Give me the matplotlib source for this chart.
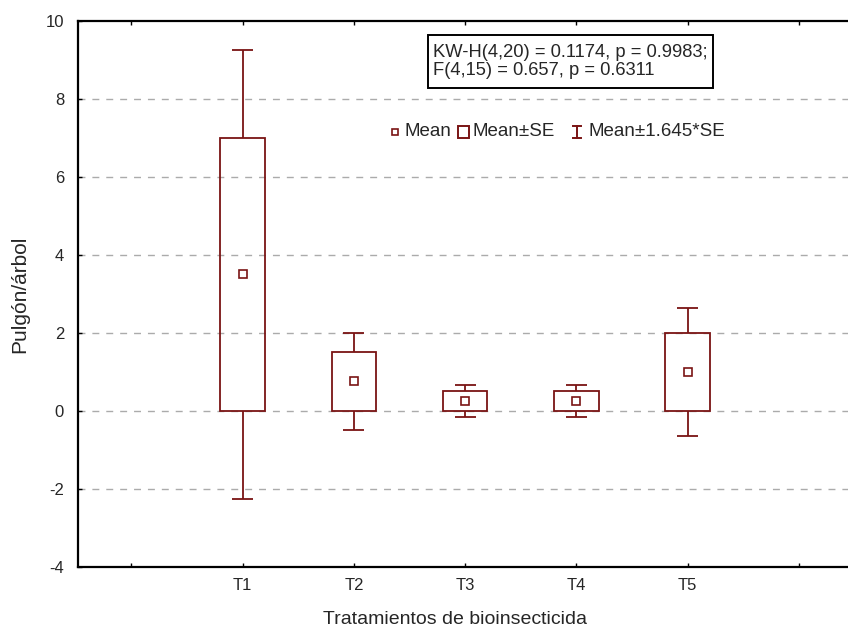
import matplotlib
matplotlib.use("Agg")
import matplotlib.pyplot as plt
from matplotlib.patches import Rectangle
import numpy as np

plt.rcParams['font.family'] = ['Liberation Sans', 'DejaVu Sans']
plt.rcParams['axes.unicode_minus'] = False

# data
treatments = ['T1', 'T2', 'T3', 'T4', 'T5']
means = [3.5, 0.75, 0.25, 0.25, 1.0]
se = [3.5, 0.75, 0.25, 0.25, 1.0]
y_ticks = [-4, -2, 0, 2, 4, 6, 8, 10]
stats_text = "KW-H(4,20) = 0.1174, p = 0.9983;\nF(4,15) = 0.657, p = 0.6311"

col = '#7a1414'
txt = '#262626'
W, H = 848, 632

fig = plt.figure(figsize=(W / 100, H / 100), dpi=100)
# axes in pixels: left 78, top 20.7, bottom 566.7; right side runs past the image
unit = 111.25
x0 = -0.48
x1 = 6.5
ax_left = 78
ax_w = (x1 - x0) * unit
ax = fig.add_axes([ax_left / W, (H - 566.7) / H, ax_w / W, 546 / H])
ax.set_xlim(x0, x1)
ax.set_ylim(-4, 10)

pos = np.arange(1, len(treatments) + 1)
m = np.array(means)
s = np.array(se)
lo_box, hi_box = m - s, m + s
lo_w, hi_w = m - 1.645 * s, m + 1.645 * s

for y in y_ticks[1:-1]:
    ax.axhline(y, color='#ababab', lw=1.0, ls=(0, (5, 5)), zorder=1)

bw = 0.2
cw = 0.095
lw = 1.3
for p, bl, bh, wl, wh in zip(pos, lo_box, hi_box, lo_w, hi_w):
    ax.add_patch(Rectangle((p - bw, bl), 2 * bw, bh - bl, fill=False,
                           edgecolor=col, lw=lw, zorder=3))
    ax.vlines(p, bh, wh, color=col, lw=lw, zorder=3)
    ax.vlines(p, wl, bl, color=col, lw=lw, zorder=3)
    ax.hlines([wl, wh], p - cw, p + cw, color=col, lw=lw, zorder=3)
ax.plot(pos, m, 's', ms=5.8, mfc='white', mec=col, mew=1.2, zorder=4, ls='none')

ax.set_xticks(np.arange(0, 7))
ax.set_xticklabels([''] + treatments + [''])
ax.set_yticks(y_ticks)
ax.tick_params(axis='x', direction='in', length=3, width=1, top=True,
               labelsize=12, pad=8, labelcolor=txt)
ax.tick_params(axis='y', direction='in', length=3, width=1,
               labelsize=12, pad=10, labelcolor=txt)
for sp in ['left', 'bottom', 'top']:
    ax.spines[sp].set_linewidth(1.6)
ax.spines['right'].set_visible(False)

fig.text(455 / W, 1 - 620 / H, 'Tratamientos de bioinsecticida', fontsize=14,
         ha='center', va='center', color=txt)
fig.text(20 / W, 1 - 294 / H, 'Pulgón/árbol', fontsize=15, rotation=90,
         ha='center', va='center', color=txt)

# stats box
fig.add_artist(Rectangle((428 / W, 1 - 88 / H), 285 / W, 53 / H, fill=False,
                         ec='black', lw=1.4, transform=fig.transFigure))
fig.text(433 / W, 1 - 61.5 / H, stats_text, fontsize=13.2, ha='left',
         va='center', linespacing=1.12, color=txt)

# legend
ly = 1 - 132 / H
fig.add_artist(plt.Line2D([395 / W], [ly], marker='s', ms=5, mfc='white',
                          mec=col, mew=1.2, transform=fig.transFigure))
fig.text(405 / W, ly, 'Mean', fontsize=13.5, va='center', color=txt)
fig.add_artist(Rectangle((458 / W, ly - 6 / H), 11 / W, 12 / H, fill=False,
                         ec=col, lw=1.4, transform=fig.transFigure))
fig.text(472 / W, ly, 'Mean±SE', fontsize=13.5, va='center', color=txt)
bx = 577 / W
fig.add_artist(plt.Line2D([bx, bx], [ly - 6.5 / H, ly + 6.5 / H], color=col,
                          lw=1.4, transform=fig.transFigure))
for yy in (ly - 6.5 / H, ly + 6.5 / H):
    fig.add_artist(plt.Line2D([bx - 4 / W, bx + 4 / W], [yy, yy], color=col,
                              lw=1.4, transform=fig.transFigure))
fig.text(588 / W, ly, 'Mean±1.645*SE', fontsize=13.5, va='center', color=txt)

fig.savefig('out.png', dpi=100)
